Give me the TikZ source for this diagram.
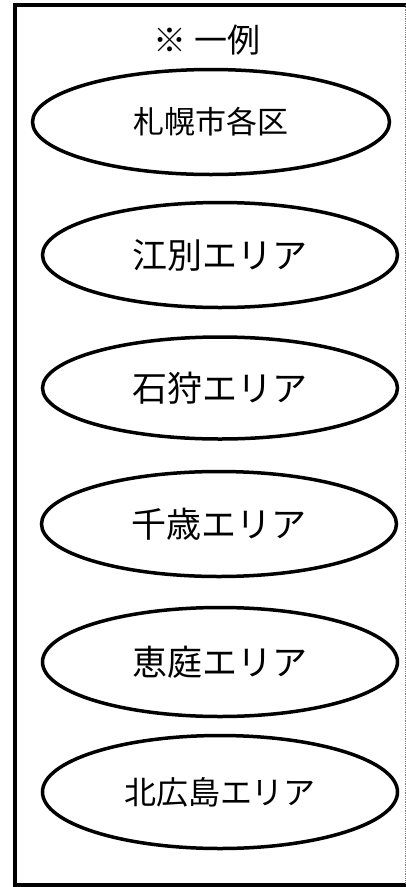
\documentclass[tikz,border=0pt]{standalone}
\usepackage{fontspec}
\newfontfamily\jpfont{Noto Sans CJK JP}
\usetikzlibrary{shapes.geometric}
\tikzset{
  area/.style={ellipse,draw,line width=3.5pt,minimum width=355pt,minimum height=105pt,inner sep=0pt,font=\jpfont\fontsize{35}{35}\selectfont},
  frame/.style={line width=4pt}
}

\begin{document}
\begin{tikzpicture}[x=1pt,y=-1pt]
    \useasboundingbox (0,0) rectangle (406,887);
    %frame
    \draw[frame] (406,5) -- (15,5) -- (15,884.5) -- (406,884.5);
    \draw[densely dotted,gray,line width=0.8pt] (405,5) -- (405,884.5);
    %title
    \node[font=\jpfont\fontsize{33}{33}\selectfont] (title) at (207,40) {※\hspace{9pt}一例};
    %areas
    \node[area,minimum width=357pt,font=\jpfont\fontsize{31}{31}\selectfont] (sapporo) at (211,122) {札幌市各区};
    \node[area] (ebetsu) at (220,255) {江別エリア};
    \node[area,minimum height=102pt] (ishikari) at (220,388) {石狩エリア};
    \node[area] (chitose) at (219,524) {千歳エリア};
    \node[area,minimum height=109pt] (eniwa) at (220,662) {恵庭エリア};
    \node[area,minimum height=113pt,font=\jpfont\fontsize{32}{32}\selectfont] (kitahiroshima) at (220,792) {北広島エリア};
\end{tikzpicture}
\end{document}
